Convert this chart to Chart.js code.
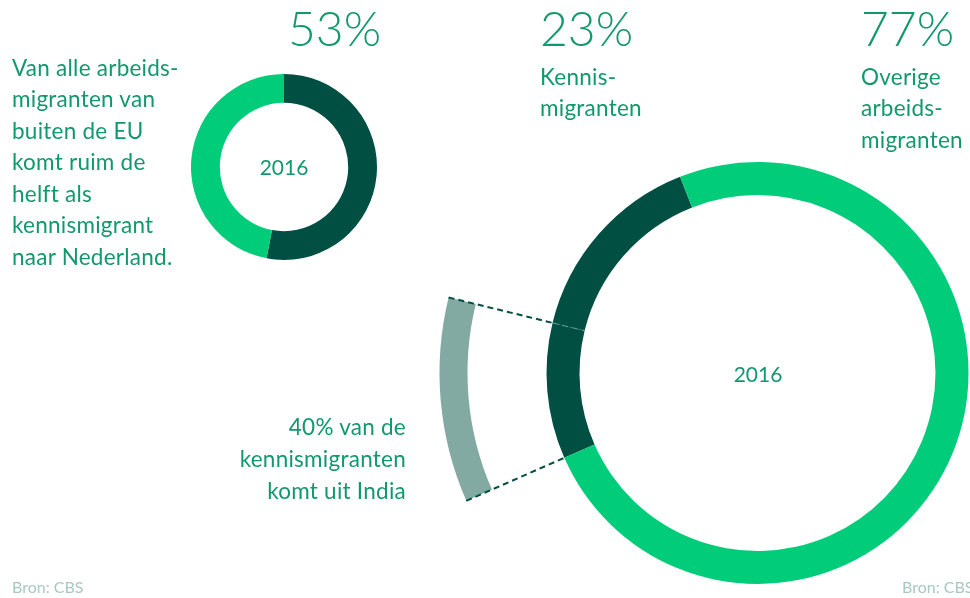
<!DOCTYPE html>
<html>
<head>
<meta charset="utf-8">
<script src="https://cdn.jsdelivr.net/npm/chart.js@4.4.1/dist/chart.umd.min.js"></script>
<style>
html,body{margin:0;padding:0;width:970px;height:598px;overflow:hidden;background:#fff;}
body{position:relative;font-family:Lato,"Open Sans",sans-serif;color:#11996c;}
canvas{position:absolute;}
.t{position:absolute;font-size:22.5px;letter-spacing:0.25px;line-height:31.5px;white-space:nowrap;z-index:2;}
.pct{position:absolute;font-size:48px;font-weight:300;line-height:48px;white-space:nowrap;z-index:2;}
.yr{position:absolute;font-size:21px;line-height:24px;width:120px;text-align:center;z-index:2;}
.src{position:absolute;font-size:16px;line-height:18px;color:#a9c8c0;white-space:nowrap;z-index:2;}
</style>
</head>
<body>
<canvas id="big" width="970" height="598" style="left:0;top:0;width:970px;height:598px"></canvas>
<canvas id="small" width="200" height="200" style="left:184px;top:67px;width:200px;height:200px"></canvas>

<div class="t" id="intro" style="left:12px;top:51.5px"></div>
<div class="pct" id="p0" style="left:288px;top:4px"></div>
<div class="pct" id="p1" style="left:540px;top:4px"></div>
<div class="pct" id="p2" style="left:861px;top:4px"></div>
<div class="t" id="l1" style="left:540px;top:60.5px"></div>
<div class="t" id="l2" style="left:861px;top:60.5px"></div>
<div class="t" id="india" style="right:564px;top:411px;line-height:32px;text-align:right"></div>
<div class="yr" id="y0" style="left:224px;top:155px"></div>
<div class="yr" id="y1" style="left:698px;top:362px"></div>
<div class="src" style="left:12px;top:578px">Bron: CBS</div>
<div class="src" style="left:902px;top:578px">Bron: CBS</div>

<script>
// ---- data ----
const year = '2016';
const smallLabels = ['Kennismigranten', 'Overige arbeidsmigranten'];
const smallValues = [53, 47];
const bigLabels = ['Kennismigranten uit India', 'Overige kennismigranten', 'Overige arbeidsmigranten'];
const bigValues = [10.4, 15.2, 74.4];   // arc sizes as drawn in the picture
const percentLabels = ['53%', '23%', '77%'];
const introText = ['Van alle arbeids-', 'migranten van', 'buiten de EU', 'komt ruim de', 'helft als', 'kennismigrant', 'naar Nederland.'];
const kennisText = ['Kennis-', 'migranten'];
const overigText = ['Overige', 'arbeids-', 'migranten'];
const indiaText = ['40% van de', 'kennismigranten', 'komt uit India'];

// ---- styles ----
const DARK = '#004f43';
const BRIGHT = '#00cc7a';
const LIGHT = '#82a9a2';

document.getElementById('intro').innerHTML = introText.join('<br>');
document.getElementById('l1').innerHTML = kennisText.join('<br>');
document.getElementById('l2').innerHTML = overigText.join('<br>');
document.getElementById('india').innerHTML = indiaText.join('<br>');
['p0','p1','p2'].forEach((id, i) => document.getElementById(id).textContent = percentLabels[i]);
document.getElementById('y0').textContent = year;
document.getElementById('y1').textContent = year;

const common = {
  responsive: false,
  animation: false,
  devicePixelRatio: 1,
  events: [],
  plugins: { legend: { display: false }, tooltip: { enabled: false } }
};

new Chart(document.getElementById('small'), {
  type: 'doughnut',
  data: {
    labels: smallLabels,
    datasets: [{ data: smallValues, backgroundColor: [DARK, BRIGHT], borderWidth: 0 }]
  },
  options: Object.assign({}, common, { radius: 93, cutout: '69%', rotation: 0 })
});

const connector = {
  id: 'connector',
  afterDatasetsDraw(chart) {
    const outer = chart.getDatasetMeta(0).data[0];
    const ring = chart.getDatasetMeta(2).data[0];
    const ctx = chart.ctx;
    const cx = ring.x, cy = ring.y;
    ctx.save();
    ctx.lineWidth = 2;
    ctx.setLineDash([6, 4]);
    [ring.startAngle, ring.endAngle].forEach((a, i) => {
      const c = Math.cos(a), s = Math.sin(a);
      ctx.strokeStyle = DARK;
      ctx.beginPath();
      ctx.moveTo(cx + outer.outerRadius * c, cy + outer.outerRadius * s);
      ctx.lineTo(cx + ring.outerRadius * c, cy + ring.outerRadius * s);
      ctx.stroke();
      if (i === 1) {
        ctx.strokeStyle = 'rgba(130,180,170,0.45)';
        ctx.lineWidth = 1.5;
        ctx.beginPath();
        ctx.moveTo(cx + ring.outerRadius * c, cy + ring.outerRadius * s);
        ctx.lineTo(cx + ring.innerRadius * c, cy + ring.innerRadius * s);
        ctx.stroke();
        ctx.lineWidth = 2;
      }
    });
    ctx.restore();
  }
};

new Chart(document.getElementById('big'), {
  type: 'doughnut',
  data: {
    labels: bigLabels,
    datasets: [
      { data: bigValues, backgroundColor: [LIGHT, 'rgba(0,0,0,0)', 'rgba(0,0,0,0)'], borderWidth: 0, weight: 28, clip: false },
      { data: bigValues, backgroundColor: 'rgba(0,0,0,0)', borderWidth: 0, weight: 79, clip: false },
      { data: bigValues, backgroundColor: [DARK, DARK, BRIGHT], borderWidth: 0, weight: 33, clip: false }
    ]
  },
  options: Object.assign({}, common, {
    radius: 318,
    cutout: '55.97%',
    rotation: 246.3,
    layout: { padding: { left: 545, right: 0, top: 148, bottom: 0 } }
  }),
  plugins: [connector]
});
</script>
</body>
</html>
